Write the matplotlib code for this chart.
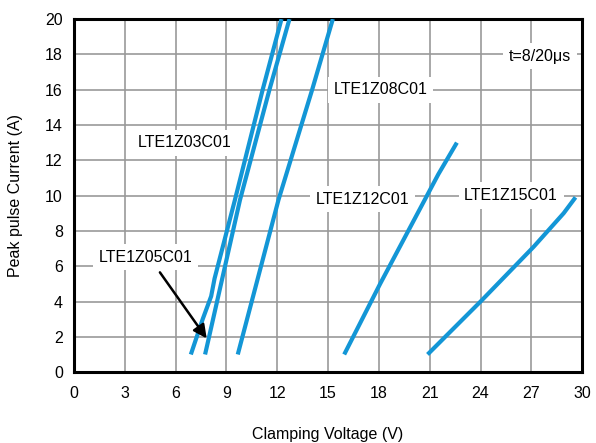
import matplotlib
matplotlib.use("Agg")
import matplotlib.pyplot as plt

# Data
z03_v = [6.9, 7.6, 8.1, 8.3, 9.5, 11.14, 12.25]
z03_i = [1.0, 3.0, 4.3, 5.3, 9.75, 16.0, 20.0]
z05_v = [7.74, 7.93, 9.8, 11.54, 12.72]
z05_i = [1.0, 1.8, 9.75, 16.0, 20.0]
z08_v = [9.67, 12.07, 14.06, 15.28]
z08_i = [1.0, 9.75, 16.0, 20.0]
z12_v = [15.95, 18.07, 21.5, 22.6]
z12_i = [1.0, 5.0, 11.2, 13.0]
z15_v = [20.87, 24.08, 27.13, 28.9, 29.6]
z15_i = [1.0, 4.08, 7.1, 9.0, 9.9]

labels = ["LTE1Z03C01", "LTE1Z05C01", "LTE1Z08C01", "LTE1Z12C01", "LTE1Z15C01"]
label_pos = [(6.55, 13.0), (4.25, 6.5), (18.1, 16.0), (17.05, 9.8), (25.8, 10.0)]
x_ticks = [0, 3, 6, 9, 12, 15, 18, 21, 24, 27, 30]
y_ticks = [0, 2, 4, 6, 8, 10, 12, 14, 16, 18, 20]

plt.rcParams['font.family'] = ['Liberation Sans', 'DejaVu Sans']

fig = plt.figure(figsize=(5.96, 4.43), dpi=100)
ax = fig.add_axes([0.124, 0.160, 0.853, 0.797])

color = '#1396d6'
for v, i in [(z03_v, z03_i), (z05_v, z05_i), (z08_v, z08_i), (z12_v, z12_i), (z15_v, z15_i)]:
    ax.plot(v, i, color=color, lw=3.0, solid_capstyle='butt', zorder=3)

ax.set_xlim(0, 30)
ax.set_ylim(0, 20)
ax.set_xticks(x_ticks)
ax.set_yticks(y_ticks)
ax.tick_params(length=0, labelsize=11.5)
ax.tick_params(axis='x', pad=10)
ax.tick_params(axis='y', pad=8)
ax.grid(True, color='#999999', lw=1.2)
ax.set_axisbelow(True)
for s in ax.spines.values():
    s.set_linewidth(2.2)
    s.set_color('black')

bbox = dict(facecolor='white', edgecolor='none', pad=4)
for lab, (x, y) in zip(labels, label_pos):
    ax.text(x, y, lab, ha='center', va='center', fontsize=11.5, bbox=bbox, zorder=2)
ax.text(27.5, 17.9, "t=8/20μs", ha='center', va='center', fontsize=11.5, bbox=bbox, zorder=2)

ax.annotate("", xy=(7.93, 1.78), xytext=(4.98, 5.78),
            arrowprops=dict(arrowstyle='-|>', color='black', lw=1.8, mutation_scale=20),
            zorder=4)

ax.set_xlabel("Clamping Voltage (V)", fontsize=11.5, labelpad=19)
ax.set_ylabel("Peak pulse Current (A)", fontsize=11.5, labelpad=16)

fig.savefig("out.png", dpi=100)
